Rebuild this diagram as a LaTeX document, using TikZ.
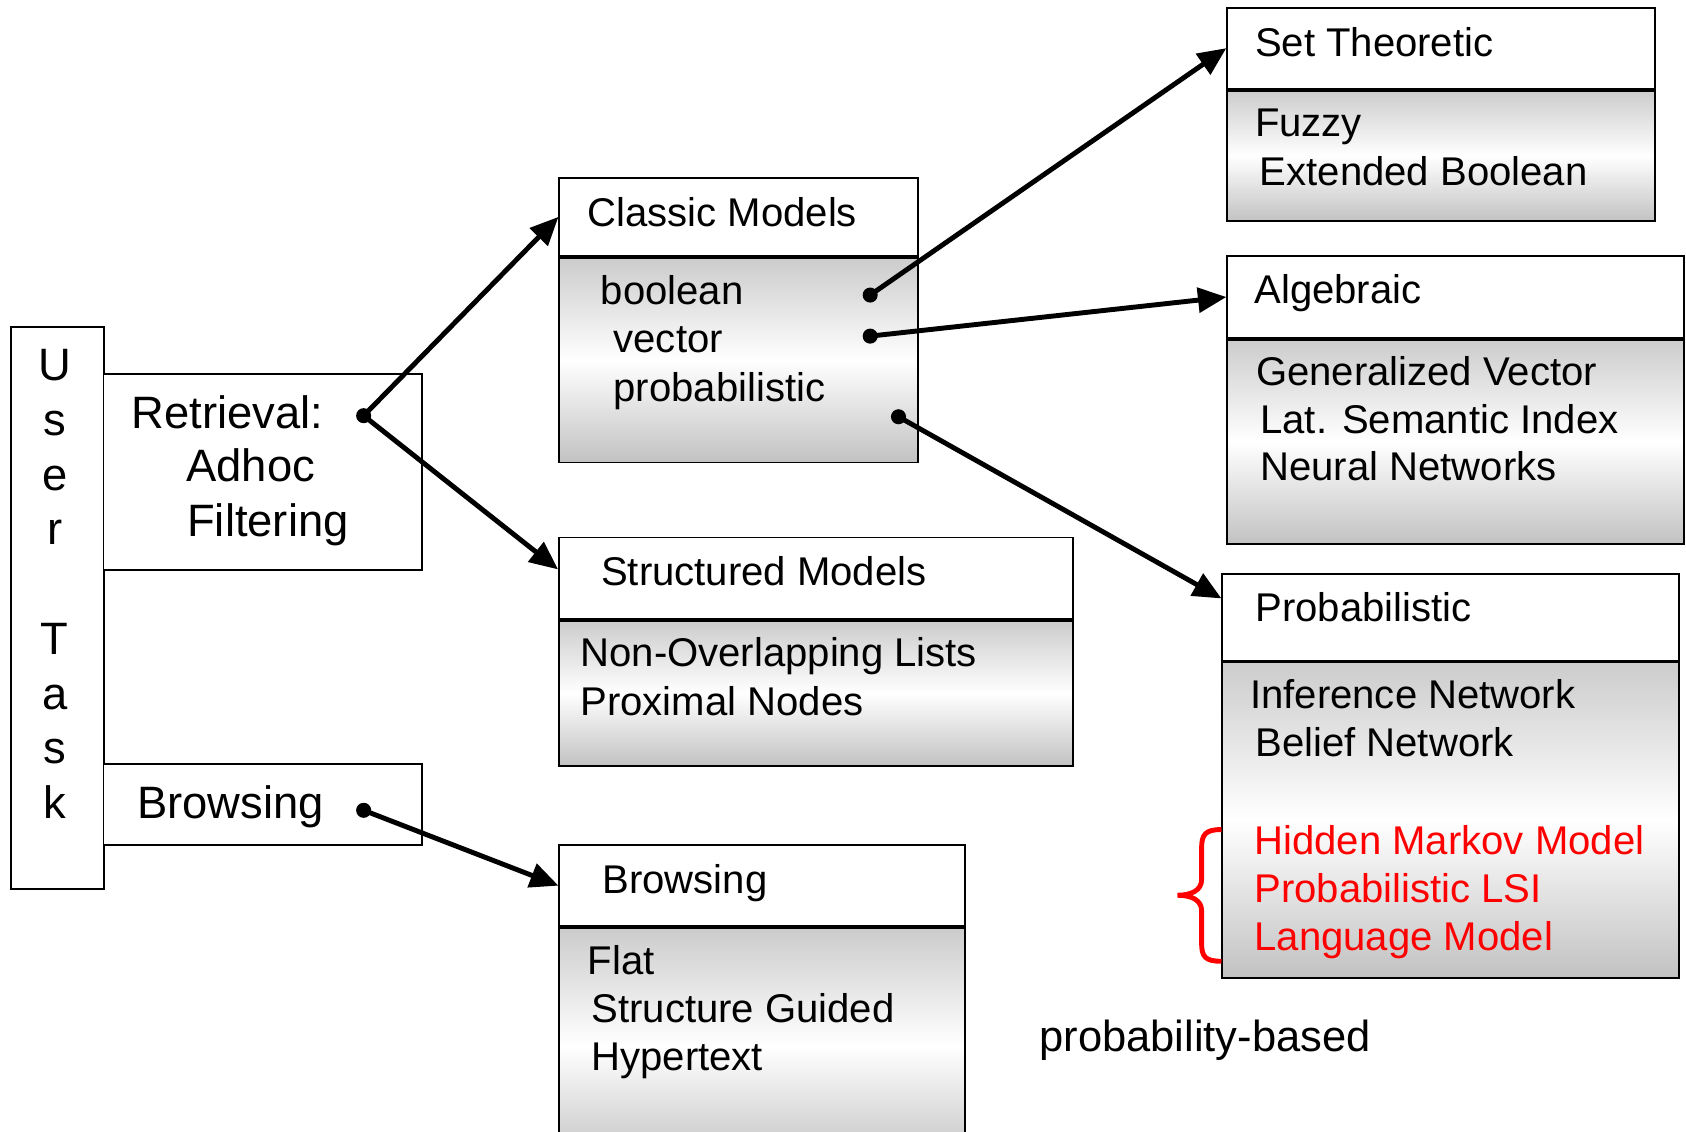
\documentclass[tikz,border=0pt]{standalone}
\usepackage{fontspec}
\setmainfont{Liberation Sans}
\usetikzlibrary{arrows.meta}
\definecolor{topgray}{gray}{0.80}
\definecolor{botgray}{gray}{0.76}
\pgfdeclareverticalshading{bodyshade}{100bp}{color(0bp)=(botgray); color(25bp)=(botgray); color(50bp)=(white); color(75bp)=(topgray); color(100bp)=(topgray)}
\tikzset{
  plain/.style={draw, line width=0.5pt, fill=white, anchor=north west, inner sep=0pt},
  body/.style={draw, line width=0.5pt, shading=bodyshade, anchor=north west, inner sep=0pt},
  txt/.style={anchor=base west, inner sep=0pt, font=\fontsize{10.6pt}{12.9pt}\selectfont},
  bigtxt/.style={anchor=base west, inner sep=0pt, font=\fontsize{12pt}{14.4pt}\selectfont},
  redtxt/.style={txt, text=red},
  dot/.style={circle, fill, inner sep=0pt, minimum size=0.14cm},
  arrow/.style={line width=1.3pt, -{Triangle[length=7.5pt, width=6.5pt]}},
  brace/.style={red, line width=1.3pt},
}
\begin{document}
\begin{tikzpicture}[x=0.01cm, y=-0.01cm]
  \useasboundingbox (0,0) rectangle (1568,1052);
  \clip (0,0) rectangle (1568,1052);

  % user task column
  \node[plain, minimum width=0.86cm, minimum height=5.23cm] (usertask) at (9.6,303) {};
  \foreach \c [count=\i from 0] in {U,s,e,r,{},T,a,s,k}
    \node[bigtxt, anchor=base] (letter-\i) at (51,354+50.9*\i) {\c};

  \node[plain, minimum width=2.962cm, minimum height=1.826cm] (retrieval) at (95.4,346.7) {};
  \node[bigtxt] (retr-1) at (122,398.3) {Retrieval:};
  \node[bigtxt] (retr-2) at (172.7,448.2) {Adhoc};
  \node[bigtxt] (retr-3) at (173.4,498.7) {Filtering};

  \node[plain, minimum width=2.962cm, minimum height=0.748cm] (browse) at (95.4,709.8) {};
  \node[bigtxt] (browse-1) at (127,761.5) {Browsing};

  % middle column
  \node[plain, minimum width=3.33cm, minimum height=0.73cm] (classic) at (519.4,164.3) {};
  \node[body, minimum width=3.33cm, minimum height=1.90cm] (classicbody) at (classic.south west) {};
  \node[txt] (classic-0) at (545.7,210.9) {Classic Models};
  \foreach \x/\t [count=\i] in {558/boolean, 570/vector, 570/probabilistic}
    \node[txt] (classic-\i) at (\x,237.4+45.4*\i) {\t};

  \node[plain, minimum width=4.78cm, minimum height=0.755cm] (struct) at (519,499) {};
  \node[body, minimum width=4.78cm, minimum height=1.35cm] (structbody) at (struct.south west) {};
  \node[txt] (struct-0) at (558.4,544.2) {Structured Models};
  \node[txt] (struct-1) at (539.2,620.2) {Non-Overlapping Lists};
  \node[txt] (struct-2) at (539.2,665.1) {Proximal Nodes};

  \node[plain, minimum width=3.766cm, minimum height=0.754cm] (browsing) at (519.4,785.1) {};
  \node[body, minimum width=3.766cm, minimum height=2.2cm] (browsingbody) at (browsing.south west) {};
  \node[txt] (browsing-0) at (559.7,831) {Browsing};
  \node[txt] (browsing-1) at (545.8,906) {Flat};
  \node[txt] (browsing-2) at (549.5,951.3) {Structure Guided};
  \node[txt] (browsing-3) at (549.5,996) {Hypertext};

  % right column
  \node[plain, minimum width=3.975cm, minimum height=0.754cm] (settheo) at (1140.5,6.2) {};
  \node[body, minimum width=3.975cm, minimum height=1.215cm] (settheobody) at (settheo.south west) {};
  \node[txt] (settheo-0) at (1166.5,52.7) {Set Theoretic};
  \node[txt] (settheo-1) at (1166.5,127.1) {Fuzzy};
  \node[txt] (settheo-2) at (1171,172.1) {Extended Boolean};

  \node[plain, minimum width=4.245cm, minimum height=0.757cm] (algebraic) at (1140.5,237.5) {};
  \node[body, minimum width=4.245cm, minimum height=1.90cm] (algebraicbody) at (algebraic.south west) {};
  \node[txt] (algebraic-0) at (1166,282.2) {Algebraic};
  \node[txt] (algebraic-1) at (1167.4,358.1) {Generalized Vector};
  \node[txt] (algebraic-2) at (1171.5,403.1) {Lat. Semantic Index};
  \node[txt] (algebraic-3) at (1171.5,447.1) {Neural Networks};

  \node[plain, minimum width=4.24cm, minimum height=0.805cm] (probab) at (1136,533) {};
  \node[body, minimum width=4.24cm, minimum height=2.93cm] (probabbody) at (probab.south west) {};
  \node[txt] (probab-0) at (1166.8,577.7) {Probabilistic};
  \node[txt] (probab-1) at (1162,658.9) {Inference Network};
  \node[txt] (probab-2) at (1166.8,703.9) {Belief Network};
  \node[redtxt] (probab-3) at (1166,794.7) {Hidden Markov Model};
  \node[redtxt] (probab-4) at (1166,839.4) {Probabilistic LSI};
  \node[redtxt] (probab-5) at (1166,884.4) {Language Model};

  \draw[brace] (1136,771.5) .. controls (1121,771.5) and (1117.5,776) .. (1117.5,789)
    -- (1117.5,818) .. controls (1117.5,828) and (1108,832.6) .. (1095,832.6)
    .. controls (1108,832.6) and (1117.5,837) .. (1117.5,847)
    -- (1117.5,877) .. controls (1117.5,890) and (1121,894) .. (1136,894);

  \node[txt, font=\fontsize{11.5pt}{14pt}\selectfont] (probnote) at (966,978) {probability-based};

  % connectors
  \node[dot] (retrdot) at (338.2,386.6) {};
  \node[dot] (browsedot) at (338.2,753.6) {};
  \node[dot] (booldot) at (809.3,274.4) {};
  \node[dot] (vecdot) at (809.3,312.6) {};
  \node[dot] (probdot) at (835.6,387.6) {};
  \draw[arrow] (retrdot.center) -- (classic.west);
  \draw[arrow] (retrdot.center) -- ([yshift=2.3pt]struct.west);
  \draw[arrow] (browsedot.center) -- (browsing.west);
  \draw[arrow] (booldot.center) -- (settheo.west);
  \draw[arrow] (vecdot.center) -- (algebraic.west);
  \draw[arrow] (probdot.center) -- ([yshift=5pt]probab.west);
\end{tikzpicture}
\end{document}
